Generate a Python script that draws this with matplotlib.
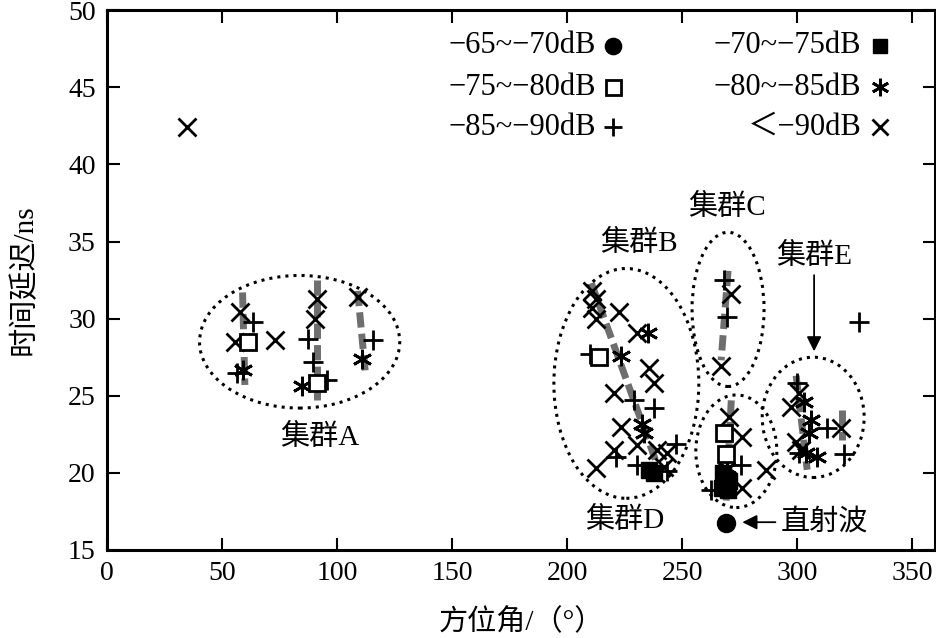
#!/usr/bin/env python3

import matplotlib
matplotlib.use('Agg')
import matplotlib.pyplot as plt
from matplotlib.patches import Ellipse

plt.rcParams['font.family'] = ['Liberation Serif', 'Noto Sans CJK SC']
plt.rcParams['axes.unicode_minus'] = True

# points per power class (azimuth deg, delay ns)
circle_x = [269.2]
circle_y = [16.75]

fsquare_x = [235.8, 238.0, 268.0, 270.5, 267.5, 270.0]
fsquare_y = [20.2, 20.0, 20.0, 19.5, 19.0, 18.9]

osquare_x = [61.2, 91.2, 214.0, 268.3, 269.2]
osquare_y = [28.5, 25.8, 27.5, 22.6, 21.2]

star_x = [59.0, 84.7, 110.7, 223.6, 232.7, 233.6, 235.0, 269.5,
          303.0, 306.0, 305.3, 304.0, 308.7]
star_y = [26.7, 25.6, 27.4, 27.6, 23.2, 22.6, 29.1, 20.3,
          24.6, 23.4, 22.6, 21.3, 21.0]

plus_x = [63.4, 56.4, 87.3, 89.4, 95.5, 115.5, 210.0, 229.0, 238.0,
          247.5, 221.4, 230.6, 243.6, 268.3, 269.6, 275.7, 262.7,
          300.0, 313.0, 301.0, 320.4, 327.0]
plus_y = [29.8, 26.5, 28.7, 27.2, 26.0, 28.6, 27.7, 24.7, 24.2,
          21.9, 21.0, 20.5, 20.1, 32.5, 30.1, 20.5, 18.9,
          25.8, 22.9, 21.3, 21.2, 29.8]

cross_x = [34.7, 57.8, 55.6, 73.0, 91.2, 90.3, 109.0,
           211.0, 212.8, 211.0, 212.8, 222.7, 230.6, 235.8, 238.0,
           220.6, 223.6, 230.6, 220.6, 212.8, 239.3, 243.6, 242.3,
           271.4, 267.0, 270.5, 276.0, 286.6, 276.0,
           301.0, 297.4, 319.0, 299.6, 301.8]
cross_y = [42.4, 30.4, 28.5, 28.6, 31.3, 30.0, 31.4,
           31.8, 31.3, 30.7, 30.0, 30.4, 29.1, 26.8, 25.8,
           25.2, 23.0, 21.8, 21.5, 20.3, 21.5, 21.3, 20.4,
           31.6, 26.9, 23.6, 22.3, 20.2, 19.0,
           25.2, 24.3, 22.9, 22.0, 21.5]

# gray trend lines: (x0, y0, x1, y1)
trend_lines = [
    (59.0, 31.7, 60.0, 25.7),
    (91.5, 32.5, 91.5, 24.7),
    (109.0, 31.8, 112.5, 26.3),
    (210.6, 32.3, 240.0, 20.2),
    (270.0, 33.1, 267.0, 27.3),
    (271.4, 24.7, 269.2, 18.2),
    (299.6, 26.3, 304.4, 20.2),
    (319.6, 24.1, 319.6, 22.1),
]

# cluster ellipses: (cx, cy, width, height)
clusters = [
    (83.8, 28.5, 87.0, 8.6),
    (225.8, 25.8, 63.0, 14.9),
    (270.0, 30.6, 31.3, 10.0),
    (273.6, 21.4, 35.2, 7.3),
    (307.0, 23.6, 44.3, 7.8),
]

legend_labels = ['−65~−70dB', '−70~−75dB', '−75~−80dB',
                 '−80~−85dB', '−85~−90dB', '＜−90dB']


fig = plt.figure(figsize=(9.37, 6.38), dpi=100)
ax = fig.add_axes([0.114, 0.138, 0.884, 0.846])

for x0, y0, x1, y1 in trend_lines:
    ax.plot([x0, x1], [y0, y1], color='#6e6e6e', lw=5,
            ls=(0, (2.2, 0.9)), zorder=1)

for cx, cy, w, h in clusters:
    ax.add_patch(Ellipse((cx, cy), w, h, fill=False, ls=':', lw=2.2,
                         ec='black', zorder=2))

styles = {
    'circle': dict(marker='o', ms=13, mfc='black', mec='black', mew=1),
    'fsquare': dict(marker='s', ms=11, mfc='black', mec='black', mew=1),
    'osquare': dict(marker='s', ms=12, mfc='white', mec='black', mew=2),
    'star': dict(marker=(6, 2, 0), ms=14, mec='black', mew=2),
    'plus': dict(marker='+', ms=15, mec='black', mew=2),
    'cross': dict(marker='x', ms=13, mec='black', mew=2),
}

ax.plot(cross_x, cross_y, ls='none', zorder=3, **styles['cross'])
ax.plot(plus_x, plus_y, ls='none', zorder=3, **styles['plus'])
ax.plot(star_x, star_y, ls='none', zorder=4, **styles['star'])
ax.plot(osquare_x, osquare_y, ls='none', zorder=5, **styles['osquare'])
ax.plot(fsquare_x, fsquare_y, ls='none', zorder=5, **styles['fsquare'])
ax.plot(circle_x, circle_y, ls='none', zorder=6, **styles['circle'])

# legend drawn by hand, two columns
order = ['circle', 'fsquare', 'osquare', 'star', 'plus', 'cross']
rows_y = [47.7, 45.0, 42.4]
col_marker_x = [220.0, 336.0]
col_text_x = [212.5, 328.0]
for i, (lab, key) in enumerate(zip(legend_labels, order)):
    row, col = i // 2, i % 2
    ax.text(col_text_x[col], rows_y[row], lab, ha='right', va='center',
            fontsize=22)
    st = dict(styles[key])
    st['ms'] = st['ms'] * 0.9
    ax.plot([col_marker_x[col]], [rows_y[row]], ls='none', zorder=6, **st)

# cluster labels
lab_fs = 21
ax.text(92.5, 22.3, '集群A', ha='center', va='center', fontsize=lab_fs)
ax.text(231.4, 34.9, '集群B', ha='center', va='center', fontsize=lab_fs)
ax.text(269.6, 37.2, '集群C', ha='center', va='center', fontsize=lab_fs)
ax.text(225.0, 16.9, '集群D', ha='center', va='center', fontsize=lab_fs)
ax.text(307.4, 34.0, '集群E', ha='center', va='center', fontsize=lab_fs)
ax.annotate('', xy=(307.4, 27.7), xytext=(307.4, 33.0),
            arrowprops=dict(arrowstyle='-|>', color='black', lw=1.3,
                            mutation_scale=22))
ax.annotate('直射波', xy=(275.0, 16.8), xytext=(293.0, 16.8),
            ha='left', va='center', fontsize=21,
            arrowprops=dict(arrowstyle='-|>', color='black', lw=1.3,
                            mutation_scale=22))

ax.set_xlim(0, 360)
ax.set_ylim(15, 50)
ax.set_xticks(range(0, 351, 50))
ax.set_yticks(range(15, 51, 5))
ax.tick_params(direction='in', length=9, width=1.5, top=True, right=True,
               labelsize=20, pad=8)
for s in ax.spines.values():
    s.set_linewidth(2.2)

ax.set_xlabel('方位角/（°）', fontsize=21, labelpad=16)
ax.set_ylabel('时间延迟/ns', fontsize=21, labelpad=22)

fig.savefig('out.png', dpi=100)
